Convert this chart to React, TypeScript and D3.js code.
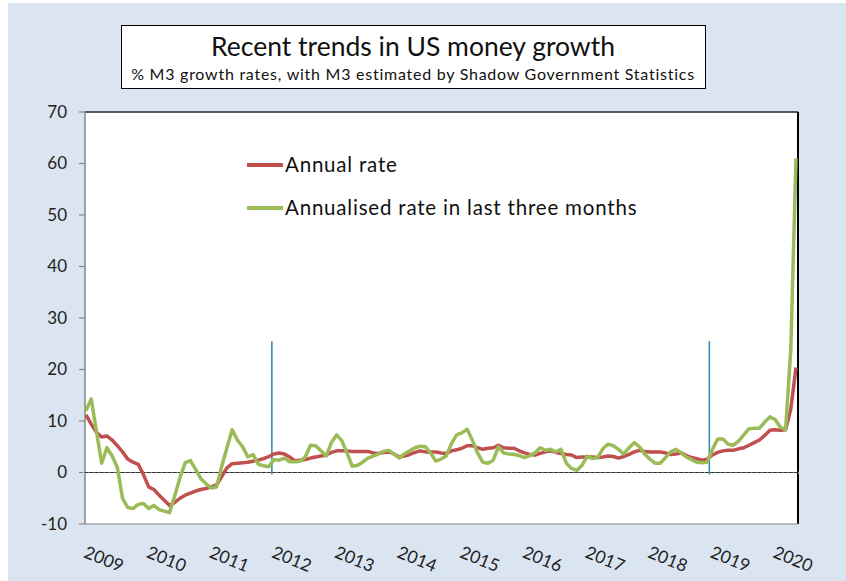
import React from "react";
import * as d3 from "d3";

const years = ["2009","2010","2011","2012","2013","2014","2015","2016","2017","2018","2019","2020"];
const yTicks = [-10, 0, 10, 20, 30, 40, 50, 60, 70];

// Monthly data, Jan 2009 .. May 2020
const annualRate = [
  11.2, 9.4, 7.8, 6.9, 7.1, 6.3, 5.2, 4.0, 2.6, 2.0, 1.6, -0.4,
  -2.8, -3.3, -4.4, -5.4, -6.4, -5.8, -5.0, -4.4, -4.0, -3.6, -3.3, -3.1,
  -2.8, -2.4, -0.8, 0.9, 1.7, 1.8, 1.9, 2.0, 2.2, 2.4, 2.7, 3.1,
  3.6, 3.8, 3.6, 3.0, 2.3, 2.4, 2.5, 2.8, 3.0, 3.2, 3.4, 3.9,
  4.2, 4.2, 4.2, 4.1, 4.1, 4.1, 4.1, 3.8, 3.7, 3.9, 4.0, 3.6,
  3.0, 3.2, 3.5, 3.9, 4.2, 4.0, 4.0, 4.0, 3.8, 3.7, 4.2, 4.4,
  4.7, 5.2, 5.2, 4.8, 4.5, 4.7, 4.8, 5.3, 4.8, 4.7, 4.7, 4.2,
  3.8, 3.5, 3.4, 3.7, 4.0, 4.2, 3.9, 3.7, 3.5, 3.4, 2.9, 3.0,
  3.0, 3.0, 2.9, 3.0, 3.2, 3.1, 2.8, 3.1, 3.5, 4.0, 4.3, 4.1,
  4.0, 4.0, 4.0, 3.8, 3.5, 3.6, 3.8, 3.3, 2.9, 2.7, 2.4, 2.6,
  3.4, 3.9, 4.2, 4.3, 4.3, 4.6, 4.8, 5.3, 5.8, 6.3, 7.2, 8.2,
  8.3, 8.2, 8.3, 12.3, 20.4,
];

const threeMonthRate = [
  12.0, 14.3, 8.0, 1.8, 4.8, 3.2, 1.0, -5.0, -6.8, -7.0, -6.2, -6.0,
  -7.0, -6.4, -7.2, -7.5, -7.8, -4.5, -1.0, 1.9, 2.3, 0.6, -1.2, -2.2,
  -3.0, -2.8, 1.2, 4.8, 8.3, 6.3, 5.0, 3.0, 3.5, 1.6, 1.3, 1.1,
  2.5, 2.4, 2.8, 2.1, 2.1, 2.2, 3.0, 5.3, 5.2, 4.2, 3.2, 5.8,
  7.3, 6.2, 3.8, 1.2, 1.4, 2.0, 2.8, 3.2, 3.6, 4.1, 4.3, 3.6,
  2.8, 3.6, 4.2, 4.8, 5.1, 5.0, 3.8, 2.2, 2.6, 3.2, 5.6, 7.3,
  7.7, 8.4, 6.3, 3.8, 2.0, 1.8, 2.4, 5.0, 3.8, 3.6, 3.5, 3.3,
  2.9, 3.3, 3.8, 4.8, 4.3, 4.5, 4.0, 4.5, 1.8, 0.8, 0.4, 1.4,
  3.2, 2.7, 2.9, 4.6, 5.5, 5.2, 4.5, 3.6, 4.8, 5.8, 5.0, 3.6,
  2.6, 1.8, 1.8, 2.9, 4.0, 4.5, 3.8, 3.0, 2.5, 2.0, 1.9, 2.0,
  4.5, 6.5, 6.5, 5.5, 5.3, 6.1, 7.3, 8.5, 8.6, 8.6, 9.8, 10.8,
  10.3, 8.8, 8.3, 23.8, 61.0,
];

// vertical marker lines (month index, top value)
const markerMonths = [35.6, 119.4];
const markerTop = 25.5;

const seriesNames = ["Annual rate", "Annualised rate in last three months"];
const colors = ["#c0504d", "#9bbb59"];

const W = 846;
const H = 581;
const FONT = "Lato, 'Open Sans', sans-serif";

export default function App() {
  const left = 85, right = 798, top = 112, bottom = 524;
  const x = d3.scaleLinear().domain([0, annualRate.length - 1]).range([86, 796]);
  const y = d3.scaleLinear().domain([-10, 70]).range([bottom, top]);
  const line = d3.line<number>().x((_, i) => x(i)).y((d) => y(d));
  const y0 = y(0);
  const months = d3.range(0, annualRate.length + 1);

  return (
    <svg width={W} height={H} style={{ position: "absolute", left: 0, top: 0 }} fontFamily={FONT}>
      <rect x={8} y={3} width={W - 8} height={H - 3} fill="#dbe5f1" />
      {/* Title box */}
      <rect x={121.5} y={25.5} width={584} height={63} fill="#fff" stroke="#000" strokeWidth={1} />
      <text x={413} y={56} textAnchor="middle" fontSize={26.5} fill="#111">Recent trends in US money growth</text>
      <text x={413} y={80} textAnchor="middle" fontSize={16} letterSpacing={0.75} fill="#111">% M3 growth rates, with M3 estimated by Shadow Government Statistics</text>

      {/* plot area */}
      <rect x={left} y={top} width={right - left} height={bottom - top} fill="#fff" />
      <line x1={left} x2={right} y1={top} y2={top} stroke="#595959" strokeWidth={2} />
      <line x1={right} x2={right} y1={top} y2={bottom} stroke="#000" strokeWidth={2} />
      <line x1={left} x2={right} y1={bottom} y2={bottom} stroke="#a6a6a6" strokeWidth={1.5} />
      <line x1={left} x2={left} y1={top} y2={bottom} stroke="#868686" strokeWidth={1.5} />

      {/* y ticks */}
      {yTicks.map((t) => (
        <g key={t}>
          <line x1={79} x2={left} y1={y(t)} y2={y(t)} stroke="#868686" strokeWidth={1.2} />
          <text x={67} y={y(t)} dy="0.35em" textAnchor="end" fontSize={17} fill="#222">{t}</text>
        </g>
      ))}

      {/* zero line */}
      <line x1={left} x2={right} y1={y0} y2={y0} stroke="#333" strokeWidth={1.2} />
      {months.map((m) => (
        <line key={m} x1={x(m) - 2.6} x2={x(m) - 2.6} y1={y0 - 1} y2={y0 + 2} stroke="#fff" strokeWidth={0.8} opacity={0.6} />
      ))}

      {/* x labels */}
      {years.map((yr, i) => {
        const cx = x(i * 12) + 18;
        const cy = 559;
        return (
          <text key={yr} x={cx} y={cy} dy="0.35em" textAnchor="middle" fontSize={17.5} fill="#222" transform={`rotate(22 ${cx} ${cy})`}>
            {yr}
          </text>
        );
      })}

      {/* marker lines */}
      {markerMonths.map((m) => (
        <line key={m} x1={x(m)} x2={x(m)} y1={y(markerTop)} y2={y(-0.4)} stroke="#3b8cb8" strokeWidth={1.6} />
      ))}

      {/* series */}
      <path d={line(annualRate) || ""} fill="none" stroke={colors[0]} strokeWidth={3.5} strokeLinejoin="round" />
      <path d={line(threeMonthRate) || ""} fill="none" stroke={colors[1]} strokeWidth={3.5} strokeLinejoin="round" />

      {/* legend */}
      {seriesNames.map((n, i) => (
        <g key={n} transform={`translate(0, ${165 + i * 43})`}>
          <line x1={247} x2={283} y1={0} y2={0} stroke={colors[i]} strokeWidth={4} />
          <text x={285} y={0} dy="0.35em" fontSize={20.5} letterSpacing={0.8} fill="#111">{n}</text>
        </g>
      ))}
    </svg>
  );
}
